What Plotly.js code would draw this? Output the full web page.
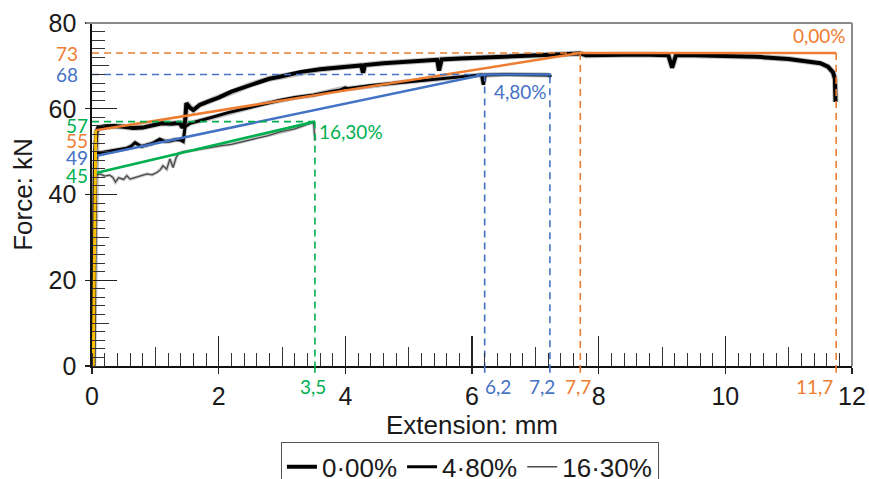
<!DOCTYPE html>
<html><head><meta charset="utf-8">
<script src="https://cdn.plot.ly/plotly-3.0.1.min.js"></script>
<style>html,body{margin:0;padding:0;background:#fff}#chart{width:869px;height:479px}</style>
</head><body><div id="chart"></div>
<script>
// ---- data ----
const ext000 = [0.02, 0.05, 0.07, 0.10, 0.20, 0.35, 0.50, 0.65, 0.80, 0.90, 1.00, 1.10, 1.25, 1.38, 1.43, 1.47, 1.49, 1.55, 1.60, 1.70, 1.85, 2.00, 2.20, 2.50, 2.80, 3.00, 3.30, 3.60, 4.00, 4.25, 4.28, 4.31, 4.60, 5.00, 5.45, 5.48, 5.52, 5.80, 6.20, 6.60, 7.00, 7.40, 7.70, 7.80, 8.00, 8.40, 8.80, 9.10, 9.16, 9.22, 9.50, 10.00, 10.50, 11.00, 11.30, 11.50, 11.62, 11.70, 11.73, 11.74];
const force000 = [0, 50, 54.5, 55.6, 55.9, 56.0, 55.8, 55.5, 55.6, 55.9, 56.2, 56.6, 56.5, 56.7, 55.6, 57.0, 61.3, 60.2, 59.7, 60.9, 61.8, 62.6, 64.0, 65.6, 67.0, 67.6, 68.6, 69.2, 69.8, 70.1, 68.4, 70.2, 70.6, 70.9, 71.4, 68.9, 71.5, 71.7, 72.0, 72.3, 72.5, 72.7, 72.9, 72.5, 72.6, 72.6, 72.6, 72.5, 69.6, 72.5, 72.5, 72.4, 72.1, 71.6, 71.1, 70.6, 69.8, 68.5, 67.0, 61.6];

const ext480 = [0.02, 0.04, 0.08, 0.20, 0.33, 0.45, 0.55, 0.62, 0.68, 0.78, 0.88, 0.95, 1.07, 1.15, 1.23, 1.32, 1.40, 1.44, 1.47, 1.55, 1.70, 1.91, 2.15, 2.44, 2.70, 2.97, 3.20, 3.50, 3.76, 3.92, 4.00, 4.05, 4.40, 4.87, 5.30, 5.66, 5.90, 6.15, 6.18, 6.21, 6.50, 6.80, 7.00, 7.20, 7.25];
const force480 = [0, 47, 49.6, 49.9, 50.2, 50.5, 50.8, 51.3, 52.1, 51.2, 51.6, 51.9, 52.9, 52.4, 52.5, 52.8, 52.7, 52.4, 55.8, 56.6, 57.2, 58.1, 59.1, 60.1, 61.1, 62.0, 62.6, 63.2, 64.0, 64.4, 64.9, 64.7, 65.4, 66.1, 66.7, 67.3, 67.6, 67.9, 65.6, 67.9, 68.0, 68.0, 68.0, 67.9, 67.4];

const ext1630 = [0.02, 0.04, 0.08, 0.13, 0.20, 0.28, 0.33, 0.37, 0.42, 0.50, 0.55, 0.60, 0.65, 0.75, 0.87, 0.95, 1.03, 1.08, 1.12, 1.18, 1.23, 1.28, 1.33, 1.37, 1.45, 1.60, 1.71, 1.90, 2.05, 2.20, 2.45, 2.77, 2.97, 3.20, 3.44, 3.50, 3.52];
const force1630 = [0, 41, 44.6, 44.8, 44.3, 44.5, 44.0, 42.9, 43.9, 43.5, 44.4, 43.6, 43.8, 44.2, 44.8, 44.6, 45.2, 45.8, 46.7, 45.9, 48.3, 46.3, 48.7, 49.6, 50.0, 50.3, 50.6, 51.1, 51.4, 51.7, 52.6, 53.7, 54.6, 55.3, 56.6, 56.7, 52.6];

const seriesNames = ['0·00%', '4·80%', '16·30%'];
const seriesTags = ['0,00%', '4,80%', '16,30%'];

// elastic line and bilinear fits
const elasticX = [0.02, 0.06];
const elasticY = [0, 55];
const fit000X = [0.06, 7.71, 11.75];
const fit000Y = [55, 73, 73];
const fit480X = [0.06, 6.2, 7.25];
const fit480Y = [49, 68, 68];
const fit1630X = [0.06, 3.52];
const fit1630Y = [45, 57];

// reference levels (horizontal dashed) and drop lines (vertical dashed)
const levelY = [73, 68, 57];
const levelEnd = [7.71, 6.2, 3.52];
const levelSeries = ['0,00%', '4,80%', '16,30%'];

const dropX = [3.52, 6.2, 7.23, 7.71, 11.75];
const dropTop = [57, 68, 67.6, 73, 73];
const dropLabels = ['3,5', '6,2', '7,2', '7,7', '11,7'];
const dropSeries = ['16,30%', '4,80%', '4,80%', '0,00%', '0,00%'];

const markY = [73, 68, 57, 55, 49, 45];
const markLabels = ['73', '68', '57', '55', '49', '45'];
const markSeries = ['0,00%', '4,80%', '16,30%', '0,00%', '4,80%', '16,30%'];

// ---- styles ----
const COL = {'0,00%': '#ED7D31', '4,80%': '#4472C4', '16,30%': '#00B050'};
const AX_FONT = 'Liberation Sans, Arial, sans-serif';
const LBL_FONT = 'Lato, Carlito, sans-serif';

const traces = [];
const curves = [[ext000, force000, 4, '#000'], [ext480, force480, 3, '#000'], [ext1630, force1630, 1.3, '#4a4a4a']];
// halos
curves.forEach(function (c, i) {
  traces.push({x: c[0], y: c[1], mode: 'lines', showlegend: false, hoverinfo: 'skip',
    line: {color: i === 2 ? 'rgba(150,150,150,0.55)' : 'rgba(0,0,0,0.25)', width: c[2] + 2}});
});
curves.forEach(function (c, i) {
  traces.push({x: c[0], y: c[1], mode: 'lines', name: seriesNames[i], showlegend: true,
    line: {color: c[3], width: c[2]}});
});

// fits
traces.push({x: fit1630X, y: fit1630Y, mode: 'lines', showlegend: false, line: {color: COL['16,30%'], width: 2.6}});
traces.push({x: fit480X, y: fit480Y, mode: 'lines', showlegend: false, line: {color: COL['4,80%'], width: 2.6}});
traces.push({x: fit000X, y: fit000Y, mode: 'lines', showlegend: false, line: {color: COL['0,00%'], width: 2.6}});
traces.push({x: elasticX, y: elasticY, mode: 'lines', showlegend: false, line: {color: '#FFC000', width: 3}});

// dashed levels
levelY.forEach(function (v, i) {
  traces.push({x: [0, levelEnd[i]], y: [v, v], mode: 'lines', showlegend: false, hoverinfo: 'skip',
    line: {color: COL[levelSeries[i]], width: 1.6, dash: '7px,5px'}});
});
dropX.forEach(function (v, i) {
  traces.push({x: [v, v], y: [dropTop[i], 0], mode: 'lines', showlegend: false, hoverinfo: 'skip',
    line: {color: COL[dropSeries[i]], width: 1.6, dash: '7px,5px'}});
});
// dummy trace for the overlay tick axes
traces.push({x: [null], y: [null], xaxis: 'x2', yaxis: 'y2', showlegend: false, hoverinfo: 'skip', mode: 'lines'});

const shapes = [
  {type: 'line', xref: 'paper', yref: 'paper', x0: -0.008, x1: 1, y0: 1, y1: 1, line: {color: '#8a8a8a', width: 2}},
  {type: 'line', xref: 'paper', yref: 'paper', x0: 1, x1: 1, y0: 0, y1: 1, line: {color: '#8a8a8a', width: 2}}
];
// drop lines continue a little below the axis
dropX.forEach(function (v, i) {
  shapes.push({type: 'line', xref: 'x', yref: 'paper', x0: v, x1: v, y0: 0, y1: -0.02,
    line: {color: COL[dropSeries[i]], width: 1.6}});
});

const annotations = [];
const markShift = [[-12, 0], [-12, 0], [-2, -4], [-2, -10], [-2, -2], [-2, -2]];
markY.forEach(function (v, i) {
  annotations.push({x: 0, y: v, xref: 'x', yref: 'y', text: markLabels[i], showarrow: false,
    xanchor: 'right', yanchor: 'middle', xshift: markShift[i][0], yshift: markShift[i][1],
    font: {family: LBL_FONT, size: 19, color: COL[markSeries[i]]}});
});
const dropAnchor = [['center', -2], ['left', -2], ['right', 7], ['center', -2], ['right', -1]];
dropX.forEach(function (v, i) {
  annotations.push({x: v, y: 0, xref: 'x', yref: 'y', text: dropLabels[i], showarrow: false,
    xanchor: dropAnchor[i][0], xshift: dropAnchor[i][1], yanchor: 'middle', yshift: -20,
    font: {family: LBL_FONT, size: 19, color: COL[dropSeries[i]]}});
});
// series tags
const tagPos = [[fit000X[2], fit000Y[2], 'right', 'bottom', 12, 4], [fit480X[2], fit480Y[2], 'right', 'top', -2, -4], [fit1630X[1], fit1630Y[1], 'left', 'top', 2, 4]];
tagPos.forEach(function (p, i) {
  annotations.push({x: p[0], y: p[1], text: seriesTags[i], showarrow: false, xanchor: p[2], yanchor: p[3],
    xshift: p[4], yshift: p[5], font: {family: LBL_FONT, size: 19, color: COL[seriesTags[i]]}});
});

const layout = {
  width: 869, height: 479,
  margin: {l: 92, r: 17, t: 23, b: 113, autoexpand: false},
  paper_bgcolor: '#fff', plot_bgcolor: '#fff',
  showlegend: true,
  font: {family: AX_FONT, color: '#1a1a1a'},
  xaxis: {
    range: [0, 12], tick0: 0, dtick: 2, ticks: 'outside', ticklen: 6, tickwidth: 1.2, tickcolor: '#222',
    showline: true, linecolor: '#111', linewidth: 1.6, showgrid: false, zeroline: false,
    tickfont: {family: AX_FONT, size: 25, color: '#1a1a1a'}, ticklabelstandoff: 1,
    minor: {dtick: 0.2, tick0: 0, ticks: 'inside', ticklen: 13, tickwidth: 1, tickcolor: '#333', showgrid: false},
    title: {text: 'Extension: mm', font: {family: AX_FONT, size: 26, color: '#1a1a1a'}, standoff: 3}
  },
  xaxis2: {
    overlaying: 'x', anchor: 'y', range: [0, 12], tick0: 0, dtick: 2, ticks: 'inside', ticklen: 30, tickwidth: 1.2,
    tickcolor: '#222', showticklabels: false, showgrid: false, zeroline: false, showline: false,
    minor: {dtick: 1, tick0: 0, ticks: 'inside', ticklen: 19, tickwidth: 1, tickcolor: '#333', showgrid: false}
  },
  yaxis: {
    range: [0, 80], tick0: 0, dtick: 20, ticks: 'outside', ticklen: 5, tickwidth: 1.2, tickcolor: '#222',
    showline: true, linecolor: '#111', linewidth: 1.6, showgrid: false, zeroline: false,
    tickfont: {family: AX_FONT, size: 25, color: '#1a1a1a'}, ticklabelstandoff: 4,
    minor: {dtick: 2, tick0: 0, ticks: 'inside', ticklen: 13, tickwidth: 1, tickcolor: '#333', showgrid: false},
    title: {text: 'Force: kN', font: {family: AX_FONT, size: 26, color: '#1a1a1a'}, standoff: 8}
  },
  yaxis2: {
    overlaying: 'y', anchor: 'x', side: 'left', range: [0, 80], tick0: 0, dtick: 20, ticks: 'inside', ticklen: 25,
    tickwidth: 1.2, tickcolor: '#222', showticklabels: false, showgrid: false, zeroline: false, showline: false,
    minor: {dtick: 10, tick0: 0, ticks: 'inside', ticklen: 17, tickwidth: 1, tickcolor: '#333', showgrid: false}
  },
  legend: {
    orientation: 'h', x: 0.497, xanchor: 'center', y: -0.222, yanchor: 'top',
    bordercolor: '#555', borderwidth: 1.2, bgcolor: '#fff',
    font: {family: AX_FONT, size: 26, color: '#1a1a1a'}, itemwidth: 30, tracegroupgap: 0
  },
  shapes: shapes,
  annotations: annotations
};

Plotly.newPlot('chart', traces, layout, {staticPlot: true, displayModeBar: false});
</script>
</body></html>
